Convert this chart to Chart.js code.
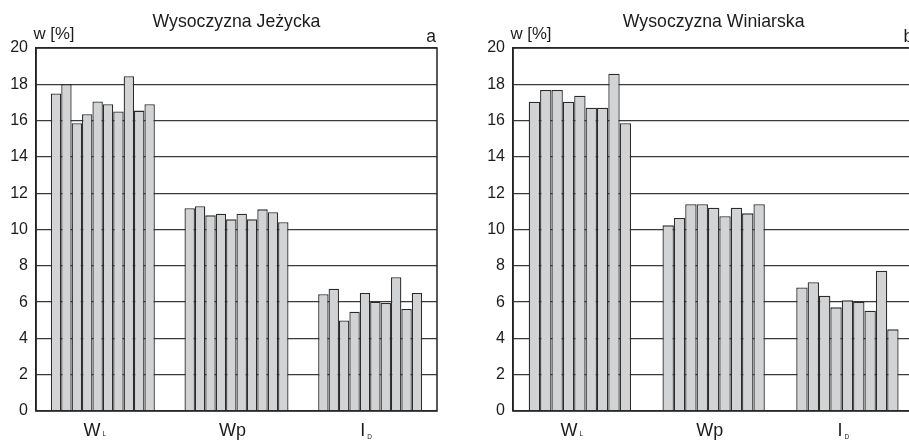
<!DOCTYPE html>
<html>
<head>
<meta charset="utf-8">
<script src="https://cdn.jsdelivr.net/npm/chart.js@4/dist/chart.umd.min.js"></script>
<style>
  html, body { margin: 0; padding: 0; background: #fff; overflow: hidden; width: 909px; height: 440px; }
  .panel { position: absolute; top: 0; }
  #p1 { left: 0; }
  #p2 { left: 460px; }
</style>
</head>
<body>
<div class="panel" id="p1"><canvas id="c1" width="455" height="440"></canvas></div>
<div class="panel" id="p2"><canvas id="c2" width="470" height="440"></canvas></div>
<script>
// Category labels (main letters and their subscripts)
const categoryMain = ['W', 'Wp', 'I'];
const categorySub = ['L', '', 'D'];
const yTicks = [0, 2, 4, 6, 8, 10, 12, 14, 16, 18, 20];

// Wysoczyzna Jeżycka – w [%] per sample
const jezyckaWL = [17.50, 18.00, 15.85, 16.35, 17.05, 16.90, 16.50, 18.45, 16.55, 16.90];
const jezyckaWp = [11.17, 11.28, 10.78, 10.87, 10.56, 10.87, 10.56, 11.11, 10.95, 10.40];
const jezyckaID = [6.43, 6.74, 4.99, 5.47, 6.50, 6.02, 5.95, 7.37, 5.62, 6.50];

// Wysoczyzna Winiarska – w [%] per sample
const winiarskaWL = [17.04, 17.69, 17.69, 17.04, 17.37, 16.71, 16.71, 18.58, 15.85];
const winiarskaWp = [10.23, 10.63, 11.39, 11.39, 11.20, 10.73, 11.20, 10.89, 11.39];
const winiarskaID = [6.81, 7.09, 6.35, 5.71, 6.10, 6.02, 5.53, 7.73, 4.50];

const FONT = '"Liberation Sans", Arial, Helvetica, sans-serif';
const INK = '#1c1c1c';

// One dataset per sample, each holding its value for WL, Wp and ID
function buildDatasets(wl, wp, id) {
  return wl.map((v, i) => ({
    data: [wl[i], wp[i], id[i]],
    backgroundColor: '#d2d3d5',
    borderColor: '#2b2b2b',
    borderWidth: 1.3,
    barPercentage: 1.0,
    categoryPercentage: 1.0
  }));
}

// Frame, headings and subscripted category labels
function decorations(title, letter) {
  return {
    id: 'decorations',
    afterDatasetsDraw(chart) {
      const ctx = chart.ctx;
      const a = chart.chartArea;
      ctx.save();
      ctx.strokeStyle = '#222';
      ctx.lineWidth = 1.5;
      ctx.strokeRect(a.left, a.top, a.right - a.left, a.bottom - a.top);
      ctx.restore();
    },
    afterDraw(chart) {
      const ctx = chart.ctx;
      const a = chart.chartArea;
      const xs = chart.scales.x;
      ctx.save();
      ctx.fillStyle = INK;
      ctx.textBaseline = 'alphabetic';

      ctx.font = '17.7px ' + FONT;
      ctx.textAlign = 'center';
      ctx.fillText(title, (a.left + a.right) / 2, 27);

      ctx.textAlign = 'left';
      ctx.font = '16.8px ' + FONT;
      ctx.fillText('w [%]', a.left - 2.5, 39);

      ctx.textAlign = 'right';
      ctx.font = '17.5px ' + FONT;
      ctx.fillText(letter, a.right - 1, 42);

      categoryMain.forEach((main, i) => {
        const sub = categorySub[i];
        const cx = xs.getPixelForValue(i);
        ctx.font = '18px ' + FONT;
        const wMain = ctx.measureText(main).width;
        ctx.font = '6.5px ' + FONT;
        const wSub = sub ? ctx.measureText(sub).width + 2 : 0;
        const shift = sub === 'L' ? -8 : -4;
        const left = cx + shift - (wMain + wSub) / 2;
        ctx.textAlign = 'left';
        ctx.font = '18px ' + FONT;
        ctx.fillText(main, left, 436);
        if (sub) {
          ctx.font = '6.5px ' + FONT;
          ctx.fillText(sub, left + wMain + 2, sub === 'D' ? 439 : 436);
        }
      });
      ctx.restore();
    }
  };
}

function makeChart(canvasId, title, letter, wl, wp, id, groupShare, padLeft, padRight) {
  const datasets = buildDatasets(wl, wp, id);
  datasets.forEach(d => { d.categoryPercentage = groupShare; });
  return new Chart(document.getElementById(canvasId), {
    type: 'bar',
    data: { labels: categoryMain.map((m, i) => m + categorySub[i]), datasets },
    options: {
      responsive: false,
      animation: false,
      devicePixelRatio: 1,
      layout: { padding: { top: 48, bottom: 0, left: padLeft, right: padRight } },
      plugins: { legend: { display: false }, tooltip: { enabled: false }, title: { display: false } },
      scales: {
        x: {
          grid: { display: false },
          border: { display: false },
          ticks: { display: false },
          afterFit(scale) { scale.height = 29; }
        },
        y: {
          min: 0,
          max: 20,
          afterBuildTicks(scale) { scale.ticks = yTicks.map(v => ({ value: v })); },
          afterFit(scale) { scale.width = 36; },
          ticks: {
            padding: 8,
            color: INK,
            font: { family: FONT, size: 16 }
          },
          grid: { color: '#3a3a3a', lineWidth: 1.3, drawTicks: false },
          border: { display: true, color: '#222', width: 1.5 }
        }
      }
    },
    plugins: [decorations(title, letter)]
  });
}

makeChart('c1', 'Wysoczyzna Jeżycka', 'a', jezyckaWL, jezyckaWp, jezyckaID, 0.778, 0, 18);
makeChart('c2', 'Wysoczyzna Winiarska', 'b', winiarskaWL, winiarskaWp, winiarskaID, 0.765, 17, 15.7);
</script>
</body>
</html>
